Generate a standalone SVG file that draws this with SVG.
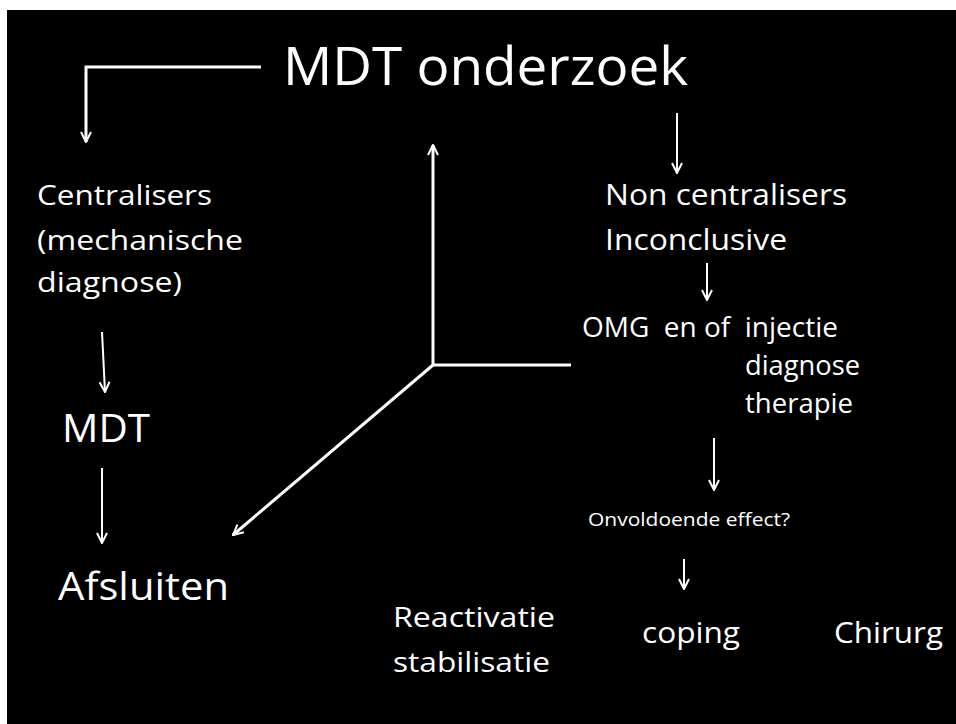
<svg xmlns="http://www.w3.org/2000/svg" width="956" height="724" viewBox="0 0 956 724">
<style>
text{font-family:"Open Sans","Noto Sans","Liberation Sans",sans-serif;fill:#ffffff;white-space:pre}
.c{fill:none;stroke:#ffffff;stroke-width:2}
.t{fill:none;stroke:#ffffff;stroke-width:3}
</style>
<defs>
<marker id="ah" viewBox="0 0 12 12" refX="11" refY="6" markerWidth="12" markerHeight="12" markerUnits="userSpaceOnUse" orient="auto">
<path d="M1,1 L11,6 L1,11" fill="none" stroke="#ffffff" stroke-width="2"/>
</marker>
</defs>
<rect x="0" y="0" width="956" height="724" fill="#ffffff"/>
<rect x="7" y="10" width="949" height="714" fill="#000000"/>
<g id="connectors">
<polyline class="t" points="261,67 86,67 86,142" marker-end="url(#ah)"/>
<line class="c" x1="677" y1="113" x2="677" y2="173" marker-end="url(#ah)"/>
<line class="c" x1="102" y1="332" x2="105" y2="392" marker-end="url(#ah)"/>
<line class="c" x1="102" y1="468" x2="102" y2="543" marker-end="url(#ah)"/>
<line class="c" x1="707" y1="263" x2="707" y2="300" marker-end="url(#ah)"/>
<line class="c" x1="714" y1="438" x2="714" y2="490" marker-end="url(#ah)"/>
<line class="c" x1="684" y1="559" x2="684" y2="589" marker-end="url(#ah)"/>
<line class="t" x1="433" y1="366" x2="433" y2="145" marker-end="url(#ah)"/>
<line class="t" x1="432" y1="365" x2="571" y2="365"/>
<line class="t" x1="433" y1="365" x2="233" y2="535" marker-end="url(#ah)"/>
</g>
<g id="mdt-onderzoek"><text x="283" y="85" font-size="53" textLength="405" lengthAdjust="spacingAndGlyphs">MDT onderzoek</text></g>
<g id="centralisers">
<text x="37" y="205" font-size="28" textLength="175" lengthAdjust="spacingAndGlyphs">Centralisers</text>
<text x="37" y="250" font-size="28" textLength="206" lengthAdjust="spacingAndGlyphs">(mechanische</text>
<text x="37" y="292" font-size="28" textLength="145" lengthAdjust="spacingAndGlyphs">diagnose)</text>
</g>
<g id="mdt"><text x="62" y="442" font-size="39" textLength="88" lengthAdjust="spacingAndGlyphs">MDT</text></g>
<g id="afsluiten"><text x="58" y="600" font-size="39" textLength="171" lengthAdjust="spacingAndGlyphs">Afsluiten</text></g>
<g id="non-centralisers">
<text x="605" y="205" font-size="29" textLength="242" lengthAdjust="spacingAndGlyphs">Non centralisers</text>
<text x="605" y="250" font-size="29" textLength="182" lengthAdjust="spacingAndGlyphs">Inconclusive</text>
</g>
<g id="omg">
<text x="582" y="337" font-size="27" textLength="256" lengthAdjust="spacingAndGlyphs">OMG  en of  injectie</text>
<text x="745" y="375" font-size="27" textLength="115" lengthAdjust="spacingAndGlyphs">diagnose</text>
<text x="745" y="413" font-size="27" textLength="108" lengthAdjust="spacingAndGlyphs">therapie</text>
</g>
<g id="onvoldoende"><text x="588" y="526" font-size="19" textLength="202" lengthAdjust="spacingAndGlyphs">Onvoldoende effect?</text></g>
<g id="reactivatie">
<text x="393" y="627" font-size="28" textLength="162" lengthAdjust="spacingAndGlyphs">Reactivatie</text>
<text x="393" y="672" font-size="28" textLength="157" lengthAdjust="spacingAndGlyphs">stabilisatie</text>
</g>
<g id="coping"><text x="642" y="643" font-size="29" textLength="98" lengthAdjust="spacingAndGlyphs">coping</text></g>
<g id="chirurg"><text x="834" y="643" font-size="29" textLength="109" lengthAdjust="spacingAndGlyphs">Chirurg</text></g>
</svg>
